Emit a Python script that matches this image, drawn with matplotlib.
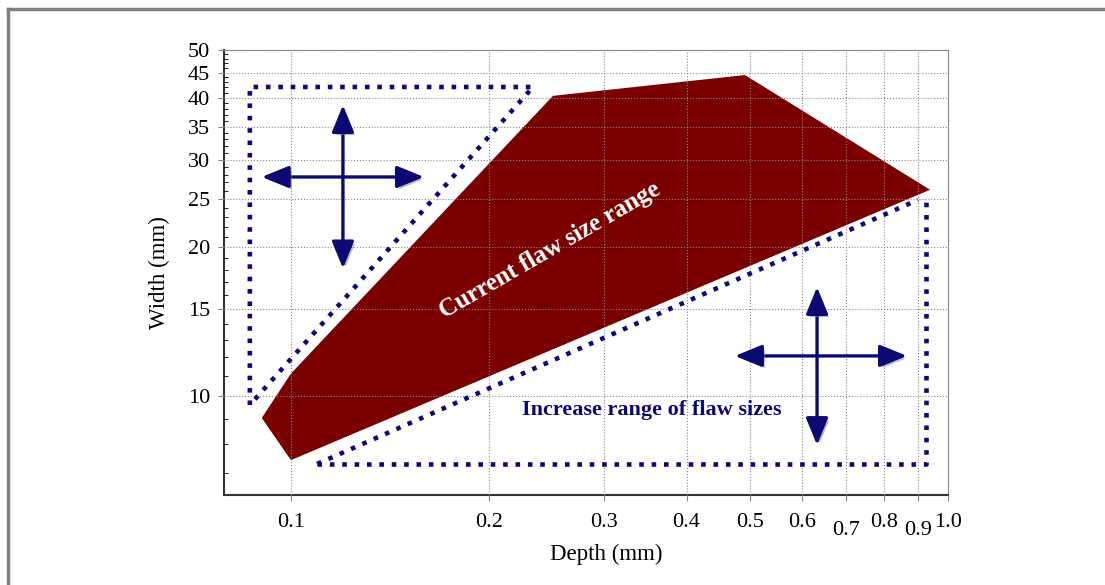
import numpy as np
import matplotlib
matplotlib.use('Agg')
import matplotlib.pyplot as plt
import matplotlib.patheffects as pe
from matplotlib.lines import Line2D

# current flaw size range (depth mm, width mm)
cur_depth = [0.0903, 0.1, 0.939, 0.491, 0.2505, 0.1]
cur_width = [9.03, 7.42, 26.1, 44.5, 40.4, 11.1]

# dotted outlines of the extended ranges
ul_depth = [0.0866, 0.0866, 0.2336, 0.0866]
ul_width = [9.59, 42.1, 42.1, 9.59]
lr_depth = [0.1096, 0.926, 0.926]
lr_width = [7.29, 7.29, 24.9]
lr_diag_depth = [0.1096, 0.90]
lr_diag_width = [7.29, 24.9]

# double arrows: (x1, y1, x2, y2)
arrows = [(0.0903, 27.7, 0.1594, 27.7), (0.12, 18.1, 0.12, 38.7),
          (0.474, 12.05, 0.866, 12.05), (0.632, 7.96, 0.632, 16.6)]

xticks = [0.1, 0.2, 0.3, 0.4, 0.5, 0.6, 0.7, 0.8, 0.9, 1.0]
xlabels = ['0.1', '0.2', '0.3', '0.4', '0.5', '0.6', '0.7', '0.8', '0.9', '1.0']
yticks = [10, 15, 20, 25, 30, 35, 40, 45, 50]

plt.rcParams['font.family'] = ['Liberation Serif', 'DejaVu Serif']
navy = '#0a0a72'
red = '#7a0000'

fig = plt.figure(figsize=(11.05, 5.85), dpi=100)
ax = fig.add_axes([224/1105, 90/585, 724/1105, 445/585])
ax.set_xscale('log')
ax.set_yscale('log')
ax.set_xlim(0.0791, 1.0)
ax.set_ylim(6.31, 50)

ax.fill(cur_depth, cur_width, color=red, lw=0, zorder=1)

dot = dict(color=navy, lw=3.3, ls=(0, (1, 1.7)), dash_capstyle='butt', zorder=3)
ax.plot(ul_depth, ul_width, **dot)
ax.plot(lr_depth, lr_width, **dot)
ax.plot(lr_diag_depth, lr_diag_width, **dot)

shadow = [pe.SimplePatchShadow(offset=(2, -2), shadow_rgbFace='gray', alpha=0.5), pe.Normal()]
for x1, y1, x2, y2 in arrows:
    ax.annotate('', xy=(x2, y2), xytext=(x1, y1),
                arrowprops=dict(arrowstyle='<|-|>,head_length=1.1,head_width=0.45',
                                mutation_scale=15, color=navy, lw=2.4,
                                shrinkA=0, shrinkB=0, path_effects=shadow),
                zorder=4)

ax.text(0.248, 19.7, 'Current flaw size range', color='white', fontsize=18,
        fontweight='bold', rotation=30, ha='center', va='center', zorder=5)
ax.text(0.354, 9.37, 'Increase range of flaw sizes', color=navy, fontsize=16,
        fontweight='bold', ha='center', va='center', zorder=5)

ax.set_xticks(xticks)
ax.set_xticklabels(xlabels)
ax.xaxis.set_minor_locator(matplotlib.ticker.NullLocator())
ax.set_yticks(yticks)
ax.set_yticklabels([str(v) for v in yticks])
ax.yaxis.set_minor_locator(matplotlib.ticker.FixedLocator(np.arange(7, 50, 1.0)))
ax.yaxis.set_minor_formatter(matplotlib.ticker.NullFormatter())
ax.tick_params(axis='both', which='major', labelsize=16, length=4, color='#888888')
ax.tick_params(axis='y', which='major', pad=6)
ax.tick_params(axis='y', which='minor', direction='in', length=3, left=True, right=False)
for i, t in enumerate(ax.xaxis.get_major_ticks()):
    t.set_pad(15 if xlabels[i] in ('0.7', '0.9') else 9)

ax.grid(True, which='major', ls=':', color='#888888', lw=0.8)
ax.set_axisbelow(False)

for s in ['top', 'right']:
    ax.spines[s].set_color('#888888')
for s in ['left', 'bottom']:
    ax.spines[s].set_color('#333333')
    ax.spines[s].set_linewidth(1.5)

ax.set_xlabel('Depth (mm)', fontsize=16.5)
ax.set_ylabel('Width (mm)', fontsize=16.5)
ax.xaxis.set_label_coords(0.528, -0.11)
ax.yaxis.set_label_coords(-0.075, 0.5)

# figure frame
fig.add_artist(Line2D([8/1105, 8/1105], [0, 1 - 9/585], color='#808080', lw=2.5, transform=fig.transFigure))
fig.add_artist(Line2D([8/1105, 1], [1 - 9/585, 1 - 9/585], color='#808080', lw=2.5, transform=fig.transFigure))

fig.savefig('out.png', dpi=100)
